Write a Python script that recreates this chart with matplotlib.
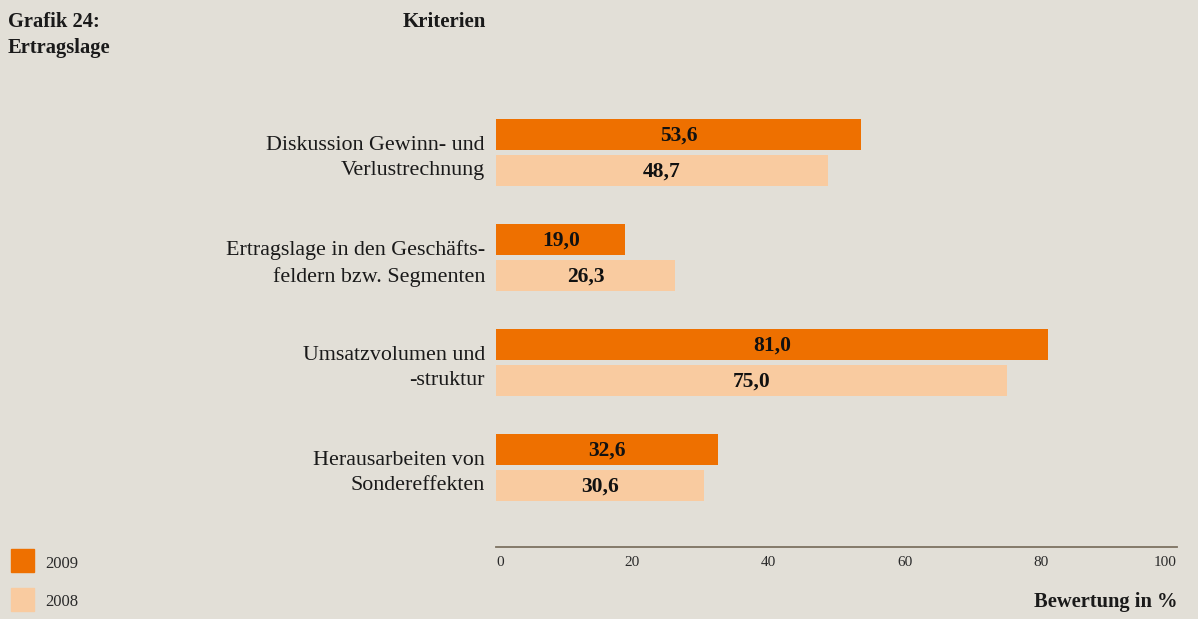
import matplotlib.pyplot as plt
from matplotlib.patches import Rectangle
import numpy as np

kriterien = ["Diskussion Gewinn- und\nVerlustrechnung",
             "Ertragslage in den Geschäfts-\nfeldern bzw. Segmenten",
             "Umsatzvolumen und\n-struktur",
             "Herausarbeiten von\nSondereffekten"]
werte_2009 = [53.6, 19.0, 81.0, 32.6]
werte_2008 = [48.7, 26.3, 75.0, 30.6]
jahre = ["2009", "2008"]
x_ticks = [0, 20, 40, 60, 80, 100]

bg = "#E2DFD7"
c09 = "#EE7000"
c08 = "#F9CBA0"
txt = "#1a1a1a"

plt.rcParams['font.family'] = ['Liberation Serif', 'DejaVu Serif']

fig = plt.figure(figsize=(11.98, 6.19), dpi=100, facecolor=bg)
ax = fig.add_axes([496/1198, 1 - 547/619, (1177 - 496)/1198, (547 - 100)/619])
ax.set_facecolor(bg)

y = np.arange(len(kriterien))
h = 0.295
off = 0.171
b09 = ax.barh(y - off, werte_2009, height=h, color=c09)
b08 = ax.barh(y + off, werte_2008, height=h, color=c08)

for bars, vals in [(b09, werte_2009), (b08, werte_2008)]:
    for bar, v in zip(bars, vals):
        ax.text(bar.get_x() + bar.get_width() / 2, bar.get_y() + bar.get_height() / 2 + 0.01,
                "{:.1f}".format(v).replace(".", ","), ha="center", va="center",
                fontsize=15.5, fontweight="bold", color="#111111")

ax.set_xlim(0, 100)
ax.set_ylim(3.757, -0.5)
ax.set_yticks(y)
ax.set_yticklabels(kriterien, fontsize=15.8, color=txt)
for lab in ax.get_yticklabels():
    lab.set_linespacing(1.45)
ax.tick_params(axis="y", length=0, pad=8)
ax.set_xticks(x_ticks)
ax.set_xticklabels([str(t) for t in x_ticks], fontsize=11, color="#2a2a2a")
ax.tick_params(axis="x", length=0, pad=6.5)
xl = ax.get_xticklabels()
xl[0].set_ha("left")
xl[-1].set_ha("right")

for s in ["top", "right", "left"]:
    ax.spines[s].set_visible(False)
ax.spines["bottom"].set_color("#7d7261")
ax.spines["bottom"].set_linewidth(1.3)

fig.text(8/1198, 1 - 12/619, "Grafik 24:\nErtragslage", ha="left", va="top",
         fontsize=14.8, fontweight="bold", color=txt, linespacing=1.38)
fig.text(486/1198, 1 - 12/619, "Kriterien", ha="right", va="top",
         fontsize=15, fontweight="bold", color=txt)
fig.text(1177/1198, 1 - 602/619, "Bewertung in %", ha="right", va="center",
         fontsize=14.8, fontweight="bold", color=txt)

# legend, drawn by hand
for i, (jahr, farbe) in enumerate(zip(jahre, [c09, c08])):
    top = 549 + i * 39
    fig.patches.append(Rectangle((11/1198, 1 - (top + 23)/619), 23/1198, 23/619,
                                 transform=fig.transFigure, color=farbe))
    fig.text(45/1198, 1 - (top + 14.5)/619, jahr, ha="left", va="center",
             fontsize=12, color="#2a2a2a")

fig.savefig("out.png", facecolor=bg)
